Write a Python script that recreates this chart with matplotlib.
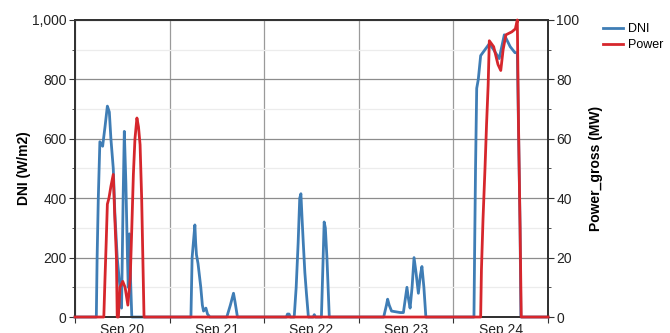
import pandas as pd
import matplotlib
matplotlib.use('Agg')
import matplotlib.pyplot as plt
import matplotlib.dates as mdates
from matplotlib.ticker import MultipleLocator, FuncFormatter

plt.rcParams['font.family'] = ['Liberation Sans', 'DejaVu Sans']

start = pd.Timestamp('2019-09-20 00:00')

# hours since Sep 20 00:00 and DNI (W/m2)
dni_hours = [0, 5.4, 5.6, 5.9, 6.3, 7.0, 7.6, 8.2, 8.7, 9.1, 9.7, 10.1, 10.7, 11.4, 11.8,
             12.2, 12.5, 12.9, 13.3, 13.5, 13.8, 14.1, 14.4,
             29.4, 29.7, 30.4, 30.6, 30.8, 31.2, 31.9, 32.3, 32.6, 33.2, 33.6, 34.2,
             38.5, 39.4, 40.2, 40.6, 41.2,
             53.6, 53.9, 54.3, 54.6, 55.6, 56.1, 56.6, 57.0, 57.3, 57.6, 57.9, 58.3, 58.7, 59.2,
             60.4, 60.7, 61.0, 62.5, 62.9, 63.2, 63.5, 63.9, 64.2, 64.5,
             78.3, 79.0, 79.3, 79.7, 80.3, 82.5, 83.3, 84.2, 84.6, 85.0, 85.5, 86.0, 86.5,
             87.1, 87.6, 88.0, 88.5, 89.0,
             101.2, 101.4, 101.6, 101.9, 102.3, 102.9, 104.0, 105.1, 106.2, 107.6, 108.9,
             110.4, 111.6, 112.2, 112.9, 113.1, 120]
dni_values = [0, 0, 200, 400, 590, 575, 640, 710, 690, 600, 500, 350, 200, 100, 30,
              400, 625, 450, 200, 100, 280, 120, 0,
              0, 200, 310, 250, 210, 180, 100, 40, 20, 30, 10, 0,
              0, 40, 80, 50, 0,
              0, 10, 10, 0, 0, 100, 250, 400, 415, 330, 250, 150, 80, 0,
              0, 8, 0, 0, 180, 320, 300, 200, 100, 0,
              0, 40, 60, 40, 20, 15, 15, 100, 60, 30, 100, 200, 150,
              80, 140, 170, 100, 0,
              0, 260, 500, 770, 800, 880, 900, 920, 900, 870, 950,
              910, 890, 890, 300, 0, 0]

# hours since Sep 20 00:00 and gross power (MW)
power_hours = [0, 7.3, 7.6, 7.9, 8.2, 8.6, 9.1, 9.7, 10.1, 10.5, 10.7, 11.0, 11.4, 12.1,
               12.7, 13.4, 14.0, 14.4, 14.8, 15.2, 15.7, 16.1, 16.5, 16.9, 17.2, 17.5,
               102.9, 103.1, 103.5, 104.0, 104.4, 104.8, 105.1, 106.2, 107.3, 108.0, 108.6,
               109.3, 110.8, 111.7, 112.2, 112.5, 112.9, 113.2, 120]
power_values = [0, 0, 13, 25, 38, 40, 44, 48, 33, 20, 0, 0, 10, 12,
                10, 4, 13, 30, 48, 60, 67, 64, 58, 40, 20, 0,
                0, 16, 33, 50, 65, 78, 93, 91, 85, 83, 90,
                95, 96, 97, 100, 65, 30, 0, 0]

dni_time = start + pd.to_timedelta(dni_hours, unit='h')
power_time = start + pd.to_timedelta(power_hours, unit='h')

blue = '#3f7db5'
red = '#d6262c'
spine = '#333333'

fig = plt.figure(figsize=(6.7, 3.33), dpi=100)
ax = fig.add_axes([0.112, 0.048, 0.706, 0.892])
ax2 = ax.twinx()

ln1, = ax.plot(dni_time, dni_values, color=blue, linewidth=2, label='DNI',
               zorder=3, clip_on=False)
ln2, = ax2.plot(power_time, power_values, color=red, linewidth=2, label='Power',
                zorder=3, clip_on=False)

ax.set_xlim(start, start + pd.Timedelta(days=5))
ax.set_ylim(0, 1000)
ax2.set_ylim(0, 100)

ax.yaxis.set_major_locator(MultipleLocator(200))
ax.yaxis.set_minor_locator(MultipleLocator(100))
ax.yaxis.set_major_formatter(FuncFormatter(lambda v, p: f'{v:,.0f}'))
ax2.yaxis.set_major_locator(MultipleLocator(20))
ax2.yaxis.set_minor_locator(MultipleLocator(10))

# ticks at midnight, labels at noon
ax.xaxis.set_major_locator(mdates.DayLocator())
ax.xaxis.set_major_formatter(plt.NullFormatter())
ax.xaxis.set_minor_locator(mdates.HourLocator(byhour=12))
ax.xaxis.set_minor_formatter(mdates.DateFormatter('%b %d'))
ax.tick_params(axis='x', which='major', length=4, color=spine)
ax.tick_params(axis='x', which='minor', length=0, pad=4, labelsize=10, labelcolor='#222222')
ax.tick_params(axis='y', which='major', length=4, color=spine, labelsize=10, labelcolor='#222222', pad=2)
ax.tick_params(axis='y', which='minor', length=2, color=spine)
ax2.tick_params(axis='y', which='major', length=4, color=spine, labelsize=10, labelcolor='#222222', pad=2)
ax2.tick_params(axis='y', which='minor', length=2, color=spine)

ax.grid(axis='y', which='major', color='#8c8c8c', linewidth=0.9)
ax.grid(axis='y', which='minor', color='#ececec', linewidth=0.9)
ax.grid(axis='x', which='major', color='#9a9a9a', linewidth=0.9)
ax.set_axisbelow(True)

for a in (ax, ax2):
    for s in a.spines.values():
        s.set_color(spine)
        s.set_linewidth(1.4)
        s.set_zorder(2)

ax.set_ylabel('DNI (W/m2)', fontsize=10, fontweight='bold', labelpad=1)
ax2.set_ylabel('Power_gross (MW)', fontsize=10, fontweight='bold', labelpad=7)

fig.legend(handles=[ln1, ln2], loc='upper left', bbox_to_anchor=(0.893, 0.945),
           frameon=False, fontsize=9, handlelength=1.6, handletextpad=0.4,
           labelspacing=0.3, borderaxespad=0)

plt.savefig('out.png', dpi=100)
